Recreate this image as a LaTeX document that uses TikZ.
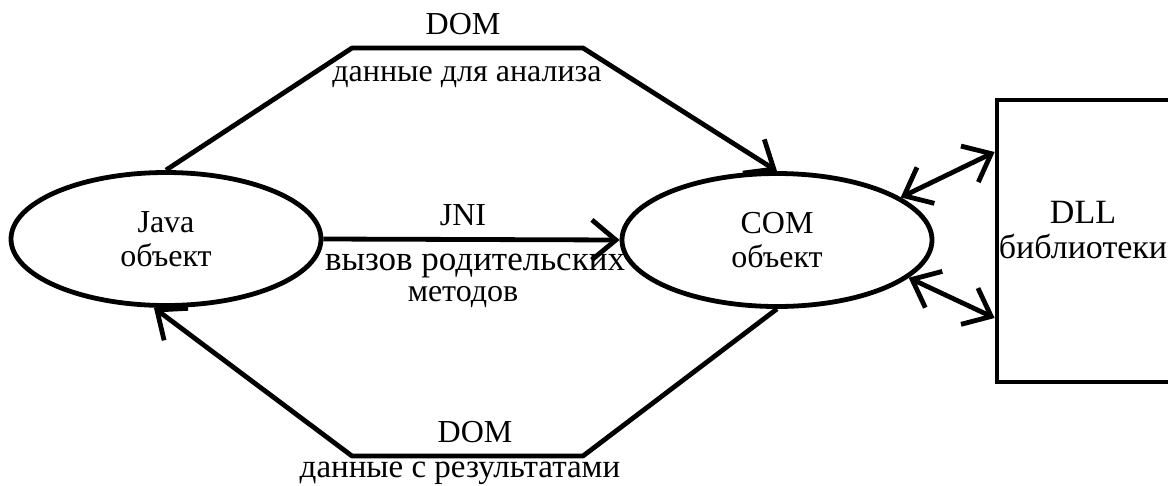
\documentclass[tikz,border=0pt]{standalone}
\usepackage{fontspec}
\setmainfont{Liberation Serif}
\usetikzlibrary{shapes.geometric,arrows.meta,calc}
\tikzset{
  conn/.style={line width=4.8pt, line join=round},
  arr/.style={conn, -{Straight Barb[length=24pt,width=40pt]}},
  darr/.style={conn, {Straight Barb[length=24pt,width=40pt]}-{Straight Barb[length=24pt,width=40pt]}},
  obj/.style={ellipse, draw, line width=4.8pt, inner sep=0pt, minimum width=310pt, minimum height=133pt, align=center, font=\fontsize{32}{34}\selectfont},
  lbl/.style={inner sep=0pt, font=\fontsize{32}{34}\selectfont}
}
\begin{document}
\begin{tikzpicture}[x=1pt,y=-1pt]
\useasboundingbox (0,0) rectangle (1168,485);
\clip (0,0) rectangle (1168,485);
\node[obj] (java) at (166,239) {Java\\объект};
\node[obj] (com) at (777,240) {COM\\объект};
\node[draw, line width=4.8pt, minimum width=176pt, minimum height=282pt, inner sep=0pt] (dll) at (1085,241) {};
\node[lbl, align=center, font=\fontsize{34}{35}\selectfont] (dlltext) at (1083,230) {DLL\\библиотеки};
\coordinate (t1) at (352,48);
\coordinate (t2) at (583,48);
\coordinate (b1) at (583,456);
\coordinate (b2) at (352,456);
\draw[arr] (java.north) -- (t1) -- (t2) -- (com.north);
\draw[arr] (java.east) -- (com.west);
\draw[arr] (com.south) -- (b1) -- (b2) -- (java.260);
\draw[darr] (com.19) -- ([yshift=89pt]dll.west);
\draw[darr] (com.-16) -- ([yshift=-77pt]dll.west);
\node[lbl] (dom1) at (463,24) {DOM};
\node[lbl] (an) at (467,77) {данные для анализа};
\node[lbl] (jni) at (463,215) {JNI};
\node[lbl, font=\fontsize{35}{36}\selectfont] (vyz) at (475,266) {вызов родительских};
\node[lbl] (met) at (463,297) {методов};
\node[lbl] (dom2) at (475,432) {DOM};
\node[lbl, font=\fontsize{33}{34}\selectfont] (res) at (460,473) {данные с результатами};
\end{tikzpicture}
\end{document}
